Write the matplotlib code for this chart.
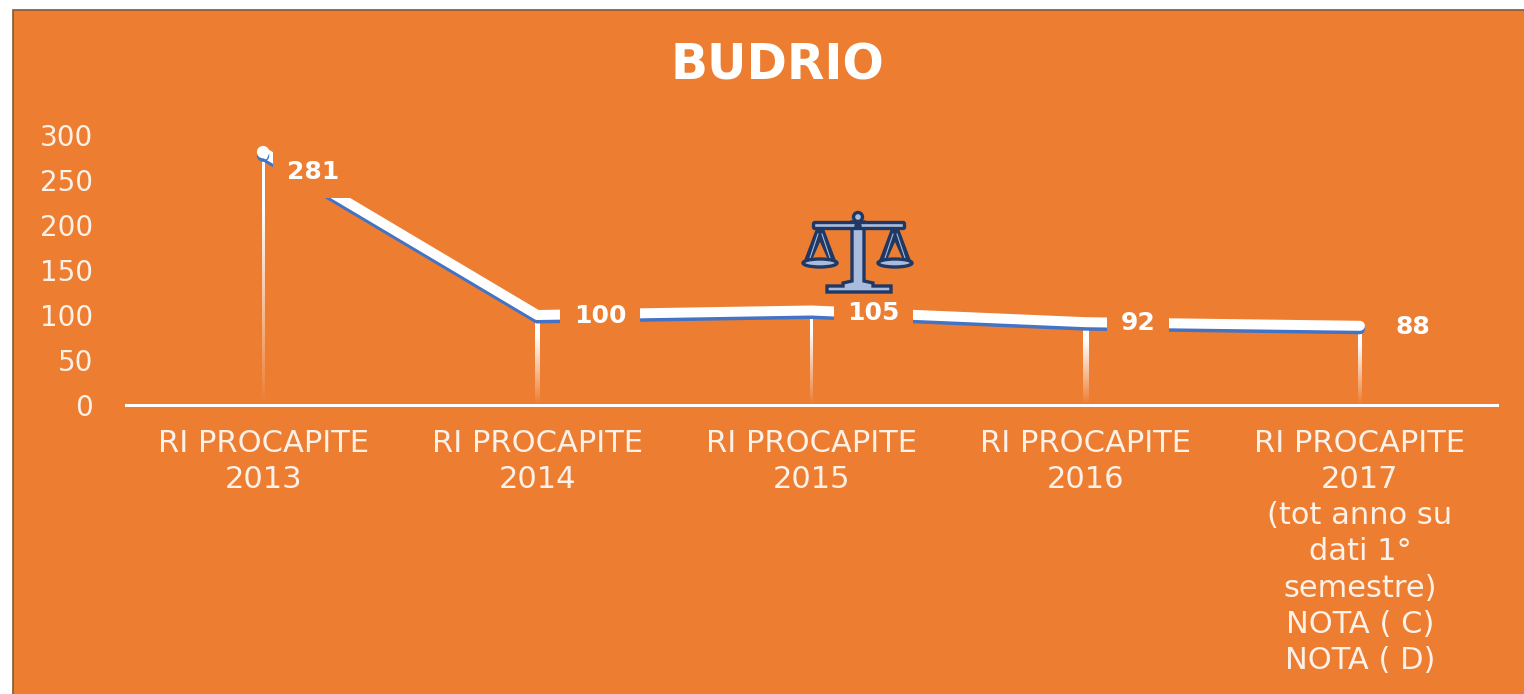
#!/usr/bin/env python3
# -*- coding: utf-8 -*-
import matplotlib
matplotlib.use("Agg")
import matplotlib.pyplot as plt
import matplotlib.patches as patches
import matplotlib.patheffects as pe
import numpy as np

W, H = 1524, 694
ORANGE = '#ED7D31'
BLUE = '#4472C4'
NAVY = '#1F3864'
STEEL = '#A9BCDD'

categories = [
    'RI PROCAPITE\n2013',
    'RI PROCAPITE\n2014',
    'RI PROCAPITE\n2015',
    'RI PROCAPITE\n2016',
    'RI PROCAPITE\n2017\n(tot anno su\ndati 1°\nsemestre)\nNOTA ( C)\nNOTA ( D)',
]
values = [281, 100, 105, 92, 88]
y_ticks = [0, 50, 100, 150, 200, 250, 300]
# scostamento etichette in pixel (dy positivo = verso il basso)
label_dx = [50, 63, 62, 52, 53]
label_dy = [20, 1, 2, 1, 1]
drop_widths = [3, 5, 3, 5, 3.5]


def px(n):
    # pixel -> punti (dpi 100)
    return n * 0.72


def axes_px(left, top, right, bottom, **kw):
    return fig.add_axes([left / W, 1 - bottom / H, (right - left) / W, (bottom - top) / H], **kw)


fig = plt.figure(figsize=(W / 100, H / 100), dpi=100, facecolor='white')

# sfondo arancione con bordo scuro
fig.add_artist(patches.Rectangle((13 / W, -0.02), 1.1, 1 - 10 / H + 0.02,
                                 transform=fig.transFigure, facecolor=ORANGE,
                                 edgecolor='#7F5A3A', linewidth=1.2, zorder=-1))

ax = axes_px(126, 135, 1497, 405)
ax.patch.set_alpha(0)
x = np.arange(len(values))

# linee verticali sfumate
ramp = np.ones((80, 1, 4))
ramp[:, 0, 3] = np.clip(np.linspace(1.3, 0, 80), 0, 1)
for xi, v, w in zip(x, values, drop_widths):
    half = w / 2 / 274.2
    ax.imshow(ramp, extent=(xi - half, xi + half, 0, v), aspect='auto',
              interpolation='bilinear', zorder=2)

ax.set_xlim(-0.5, 4.5)
ax.set_ylim(0, 300)

# linea bianca con ombra blu
ax.plot(x, values, color='white', lw=px(10), marker='o', ms=px(11), markevery=[0],
        solid_capstyle='round', solid_joinstyle='round', zorder=3, clip_on=False,
        path_effects=[pe.SimpleLineShadow(offset=(0, -2.5), shadow_color=BLUE, alpha=1), pe.Normal()])

# etichette dati con fondo arancione
for xi, v, dx, dy in zip(x, values, label_dx, label_dy):
    ax.annotate(str(v), (xi, v), xytext=(px(dx), -px(dy)), textcoords='offset points',
                ha='center', va='center', color='white', fontsize=18, fontweight='bold',
                bbox=dict(boxstyle='square,pad=0.55', fc=ORANGE, ec='none'), zorder=4)

ax.set_xticks(x)
ax.set_xticklabels(categories, fontsize=22, color='#FDF1E8', linespacing=1.31)
ax.set_yticks(y_ticks)
ax.tick_params(axis='y', length=0, pad=px(33), labelsize=20, labelcolor='#FDF1E8')
ax.tick_params(axis='x', length=0, pad=px(24))
for s in ['top', 'right', 'left']:
    ax.spines[s].set_visible(False)
ax.spines['bottom'].set_color('white')
ax.spines['bottom'].set_linewidth(px(3))

fig.text(777 / W, 1 - 66 / H, 'BUDRIO', ha='center', va='center', color='white',
         fontsize=35, fontweight='bold')

# icona bilancia
icon = axes_px(800, 208, 918, 298)
icon.set_xlim(800, 918)
icon.set_ylim(298, 208)
icon.axis('off')
lw_i = 2.4
# base e colonna
icon.add_patch(patches.Polygon([(827, 292), (827, 286), (843, 286), (843, 283), (852, 281), (852, 222),
                                (864, 222), (864, 281), (873, 283), (873, 286), (891, 286), (891, 292)],
                               fc=STEEL, ec=NAVY, lw=lw_i, zorder=3))
icon.add_patch(patches.Circle((858, 217), 4.5, fc=STEEL, ec=NAVY, lw=lw_i, zorder=2))
# braccio
icon.add_patch(patches.FancyBboxPatch((815, 224), 88, 3, boxstyle='round,pad=1.5',
                                      fc=STEEL, ec=NAVY, lw=lw_i, zorder=4))
icon.add_patch(patches.Circle((858, 226), 3, fc=NAVY, ec=NAVY, zorder=5))
for cx in (820, 895):
    icon.add_patch(patches.Polygon([(cx - 3, 228), (cx + 3, 228), (cx + 15, 260), (cx - 15, 260)],
                                   fc=NAVY, ec=NAVY, lw=1, zorder=2))
    icon.add_patch(patches.Polygon([(cx - 8, 260), (cx, 242), (cx + 8, 260)],
                                   fc=ORANGE, ec='none', zorder=3))
    icon.plot([cx - 2, cx - 10], [234, 258], color=STEEL, lw=0.8, zorder=3)
    icon.plot([cx + 2, cx + 10], [234, 258], color=STEEL, lw=0.8, zorder=3)
    icon.add_patch(patches.Ellipse((cx, 263), 34, 8, fc=STEEL, ec=NAVY, lw=lw_i, zorder=4))

fig.savefig('out.png', dpi=100, facecolor=fig.get_facecolor())
